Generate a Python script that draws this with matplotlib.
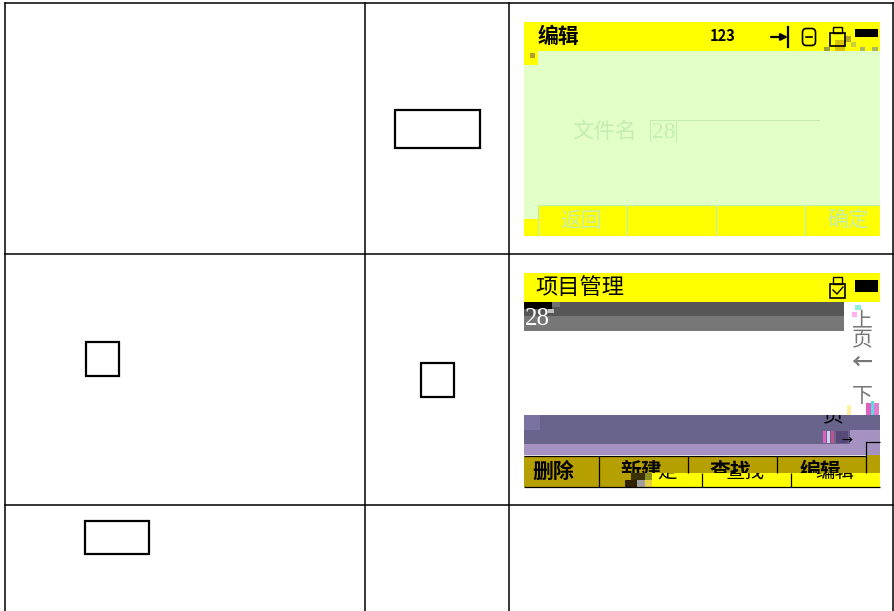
import matplotlib
matplotlib.use("Agg")
import matplotlib.pyplot as plt
from matplotlib.patches import Rectangle, FancyBboxPatch

W = 894
H = 611

plt.rcParams['font.family'] = ['Noto Sans CJK SC', 'DejaVu Sans']

# table grid
grid_vertical = [5, 365, 509, 893]
grid_horizontal = [3, 254, 505]

# empty key boxes: x, y, width, height
key_boxes = [(395, 110, 85, 38), (421, 363, 33, 34), (86, 342, 33, 34), (85, 521, 64, 33)]

YELLOW = "#ffff00"
GREEN = "#e2ffc8"
FAINT = "#c4eeb0"
OLIVE = "#b5a000"
PURPLE = "#68648c"
LILAC = "#a592c0"
SERIF = ['Liberation Serif', 'DejaVu Serif']

# first screen
edit_title = "编辑"
edit_mode = "123"
edit_label = "文件名"
edit_value = "28"
edit_buttons = ["返回", "确定"]
edit_button_text_x = [581, 848]
edit_button_x = [538, 627, 716, 805]

# second screen
project_title = "项目管理"
project_item = "28"
side_text = ["上", "页", "←", "下"]
side_y = [320, 340, 362, 396]
olive_buttons = ["删除", "新建", "查找", "编辑"]
olive_button_x = [599, 688, 777, 866]
olive_text_x = [553, 641, 730, 820]
yellow_buttons = ["定", "查找", "编辑"]
yellow_text_x = [667, 745, 835]
yellow_button_x = [702, 791]

# compression blocks in the screenshots: x, y, width, height, colour
edit_blocks = [(835, 40, 10, 11, "#d8c400"), (845, 36, 6, 6, "#b8a820"), (851, 42, 5, 5, "#c8d040"),
               (824, 47, 6, 4, "#98a040"), (860, 47, 5, 4, "#a8b860"), (872, 47, 6, 4, "#a8b860"),
               (530, 53, 5, 5, "#b0a030")]
project_blocks = [(524, 415, 16, 15, "#7a72a0"), (552, 302, 8, 5, "#707070"),
                  (850, 430, 30, 25, LILAC), (866, 403, 5, 12, "#e060c0"), (871, 401, 3, 14, "#60d8e0"),
                  (874, 403, 5, 12, "#e080d0"), (855, 305, 6, 5, "#90f0e0"), (852, 312, 5, 5, "#ffb0f0"),
                  (847, 405, 4, 10, "#fff0a0"), (823, 431, 3, 12, "#e060c0"), (827, 431, 3, 12, "#d0d0f0"),
                  (831, 431, 3, 12, "#c05090"), (836, 431, 12, 12, "#584878"),
                  (548, 309, 6, 4, "#c0c0c0")]
dark_blocks = [(631, 473, 14, 7, "#3a3000"), (645, 473, 7, 7, "#8c9020"), (625, 480, 12, 7, "#332200"),
               (637, 480, 8, 7, "#a0a0a0"), (645, 480, 7, 7, "#e8d040")]


def rect(ax, x, y, w, h, color, z=1):
    ax.add_patch(Rectangle((x, y), w, h, facecolor=color, edgecolor="none", zorder=z))


def label(ax, x, y, text, size, color="black", weight="normal", z=5, family=None, clip=None):
    t = ax.text(x, y, text, fontsize=size, color=color, fontweight=weight, ha="center", va="center",
                zorder=z, family=family)
    if clip is not None:
        t.set_clip_path(Rectangle(clip[:2], clip[2], clip[3], transform=ax.transData))
        t.set_clip_on(True)
    return t


def draw_table(ax):
    for x in grid_vertical:
        ax.plot([x, x], [grid_horizontal[0], H], color="black", lw=1.1, zorder=3)
    for y in grid_horizontal:
        ax.plot([grid_vertical[0], grid_vertical[-1]], [y, y], color="black", lw=1.1, zorder=3)
    for x, y, w, h in key_boxes:
        ax.add_patch(Rectangle((x, y), w, h, fill=False, edgecolor="black", lw=1.6, zorder=3))


def draw_edit_screen(ax):
    rect(ax, 524, 22, 356, 214, GREEN)
    rect(ax, 524, 22, 356, 29, YELLOW, 2)
    rect(ax, 524, 51, 14, 14, YELLOW, 2)
    rect(ax, 524, 219, 14, 17, YELLOW, 2)
    rect(ax, 538, 205, 342, 31, YELLOW, 2)
    for x in edit_button_x:
        ax.plot([x, x], [205, 236], color=FAINT, lw=0.9, zorder=3, solid_capstyle="butt")
    ax.plot([538, 880], [205, 205], color=FAINT, lw=0.9, zorder=3, solid_capstyle="butt")
    for x, y, w, h, c in edit_blocks:
        rect(ax, x, y, w, h, c, 3)
    label(ax, 558, 36, edit_title, 15, weight="bold")
    label(ax, 723, 36, edit_mode, 10.5, weight="bold")
    # status icons
    ax.annotate("", xy=(788, 37), xytext=(771, 37), zorder=5,
                arrowprops=dict(arrowstyle="-|>", color="black", lw=1.6, shrinkA=0, shrinkB=0))
    ax.plot([788, 788], [27, 47], color="black", lw=1.6, zorder=5)
    ax.add_patch(FancyBboxPatch((804, 30), 10, 14, boxstyle="round,pad=1.5,rounding_size=4",
                                fill=False, edgecolor="black", lw=1.2, zorder=5))
    ax.plot([806, 812], [37, 37], color="black", lw=1.2, zorder=5)
    ax.add_patch(Rectangle((830, 33), 15, 13, fill=False, edgecolor="black", lw=1.2, zorder=4))
    ax.add_patch(Rectangle((833, 27), 9, 6, fill=False, edgecolor="black", lw=1.0, zorder=4))
    rect(ax, 855, 29, 23, 8, "black", 5)
    label(ax, 605, 132, edit_label, 15.5, color=FAINT)
    label(ax, 664, 132, edit_value, 17, color=FAINT, family=SERIF)
    ax.plot([650, 650, 819], [141, 120, 120], color=FAINT, lw=0.8, zorder=3)
    ax.plot([676, 676], [122, 141], color=FAINT, lw=0.8, zorder=3)
    for text, x in zip(edit_buttons, edit_button_text_x):
        label(ax, x, 221, text, 15, color=FAINT)


def draw_project_screen(ax):
    rect(ax, 524, 273, 356, 29, YELLOW)
    rect(ax, 524, 302, 320, 14, "#565656")
    rect(ax, 524, 302, 28, 7, "black", 2)
    rect(ax, 524, 316, 320, 15, "#777777")
    rect(ax, 524, 415, 356, 29, PURPLE)
    rect(ax, 524, 444, 356, 11, LILAC)
    rect(ax, 524, 456, 342, 31, OLIVE)
    rect(ax, 866, 442, 14, 31, OLIVE)
    rect(ax, 652, 473, 228, 14, YELLOW, 2)
    for x, y, w, h, c in project_blocks:
        rect(ax, x, y, w, h, c, 2)
    for x, y, w, h, c in dark_blocks:
        rect(ax, x, y, w, h, c, 4)
    for i, x in enumerate(olive_button_x):
        ax.plot([x, x], [456, 487 if i == 0 else 473], color="black", lw=0.9, zorder=3, solid_capstyle="butt")
    for x in yellow_button_x:
        ax.plot([x, x], [473, 487], color="black", lw=0.9, zorder=3, solid_capstyle="butt")
    ax.plot([524, 866], [456, 456], color="black", lw=0.9, zorder=3, solid_capstyle="butt")
    ax.plot([866, 866, 880], [456, 442, 442], color="black", lw=0.9, zorder=3, solid_capstyle="butt")
    ax.plot([524, 880], [487, 487], color="black", lw=0.9, zorder=4, solid_capstyle="butt")
    label(ax, 580, 288, project_title, 16)
    # usb and battery icons
    ax.add_patch(Rectangle((830, 284), 15, 14, fill=False, edgecolor="black", lw=1.2, zorder=5))
    ax.add_patch(Rectangle((833, 277), 9, 7, fill=False, edgecolor="black", lw=1.0, zorder=5))
    ax.plot([833, 837, 843], [290, 294, 287], color="black", lw=1.0, zorder=5)
    rect(ax, 855, 280, 23, 12, "black", 5)
    label(ax, 537, 319, project_item, 18, color="white", family=SERIF)
    for text, y in zip(side_text, side_y):
        label(ax, 862, y, text, 15, color="#777777", weight="bold" if text == "←" else "normal",
              clip=(844, 302, 36, 113))
    label(ax, 833, 416, "页", 15, clip=(820, 415, 30, 15))
    label(ax, 847, 440, "→", 8, weight="bold")
    for text, x in zip(olive_buttons, olive_text_x):
        label(ax, x, 471, text, 15, weight="bold", z=3, clip=(524, 456, 342, 31 if x < 600 else 17))
    for text, x in zip(yellow_buttons, yellow_text_x):
        label(ax, x, 472, text, 14, z=3, clip=(652, 473, 228, 14))


def main():
    fig = plt.figure(figsize=(W / 100, H / 100), dpi=100)
    ax = fig.add_axes([0, 0, 1, 1])
    ax.set_xlim(0, W)
    ax.set_ylim(H, 0)
    ax.axis("off")
    draw_table(ax)
    draw_edit_screen(ax)
    draw_project_screen(ax)
    fig.savefig("out.png", dpi=100, facecolor="white")


if __name__ == '__main__':
    main()
